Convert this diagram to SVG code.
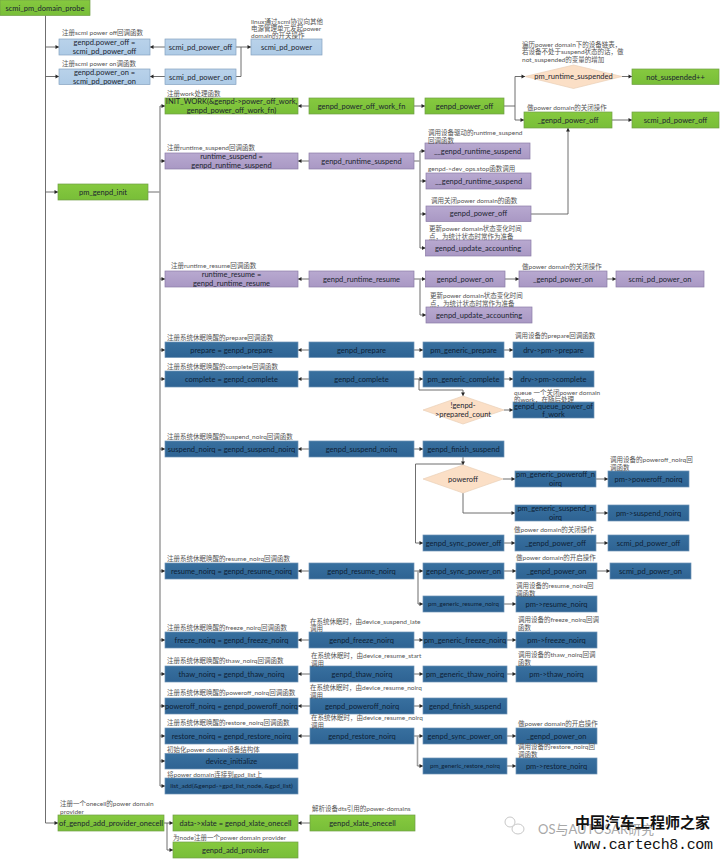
<svg xmlns="http://www.w3.org/2000/svg" width="720" height="859" viewBox="0 0 720 859">
<defs>
<marker id="a" markerUnits="userSpaceOnUse" markerWidth="5" markerHeight="5" refX="4" refY="2.5" orient="auto"><path d="M0.5 0.5L4 2.5L0.5 4.5Z" fill="#262626"/></marker>
<linearGradient id="gG" x1="0" y1="0" x2="0" y2="1"><stop offset="0" stop-color="#86c93f"/><stop offset="1" stop-color="#78be38"/></linearGradient>
<linearGradient id="gL" x1="0" y1="0" x2="0" y2="1"><stop offset="0" stop-color="#b9d2ea"/><stop offset="1" stop-color="#aecbe6"/></linearGradient>
<linearGradient id="gP" x1="0" y1="0" x2="0" y2="1"><stop offset="0" stop-color="#b8a9d0"/><stop offset="1" stop-color="#a998c4"/></linearGradient>
<linearGradient id="gB" x1="0" y1="0" x2="0" y2="1"><stop offset="0" stop-color="#38709f"/><stop offset="1" stop-color="#2e6393"/></linearGradient>
</defs>
<style>
text{font-family:"Lato","Noto Sans CJK SC",sans-serif}
.n text{font-size:7.5px;text-anchor:middle;fill:#1c2530}
.s text{font-size:6.2px}
.xs text{font-size:6.5px}
.g rect{fill:url(#gG);stroke:#6f9f45;stroke-width:.7}
.l rect{fill:url(#gL);stroke:#84a2bf;stroke-width:.7}
.p rect{fill:url(#gP);stroke:#8b7ba6;stroke-width:.7}
.b rect{fill:url(#gB);stroke:#6d92b5;stroke-width:.7}
.b text{fill:#0e1f35}
.d polygon{fill:#fbdfc6;stroke:#ead0b8;stroke-width:.7}
.c path{fill:none;stroke:#5f5f5f;stroke-width:.9}
.c .m{marker-end:url(#a)}
.c .t{stroke:#a3a3a3;stroke-width:1.6}
.lb text{font-size:6.5px;fill:#555}
.wm text{fill:#111}
</style>
<g id="connectors" class="c">
<path class="m" d="M45.5 15.5V823H58"/>
<path class="m" d="M45.5 47H59"/>
<path class="m" d="M45.5 76.5H59"/>
<path class="m" d="M45.5 192H58"/>
<path class="m" d="M165 47H150"/>
<path class="m" d="M165 76.5H150"/>
<path class="m" d="M236 47H251"/>
<path d="M236 76.5H241V47"/>
<path d="M148 192H160"/>
<path class="t" d="M160 106V786"/>
<path class="m" d="M160 106H165"/><path class="m" d="M160 161H165"/><path class="m" d="M160 279H165"/><path class="m" d="M160 350H165"/><path class="m" d="M160 379H165"/><path class="m" d="M160 449H165"/><path class="m" d="M160 571H165"/><path class="m" d="M160 640H165"/><path class="m" d="M160 674H165"/><path class="m" d="M160 706H165"/><path class="m" d="M160 736H165"/><path class="m" d="M160 761H165"/><path class="m" d="M160 786H165"/>
<path class="m" d="M309 106H298"/>
<path class="m" d="M414 106H425"/>
<path class="m" d="M504 106H515V76.5H525"/>
<path class="m" d="M515 106V120H524"/>
<path class="m" d="M622 76.5H632"/>
<path class="m" d="M612 120H632"/>
<path class="m" d="M309 161H298"/>
<path d="M414 161H420"/>
<path class="t" d="M420 151V248"/>
<path class="m" d="M420 151H425"/><path class="m" d="M420 181H426"/><path class="m" d="M420 214H426"/><path class="m" d="M420 248H425.500"/>
<path class="m" d="M531 214H568V128"/>
<path class="m" d="M309 279H298"/>
<path class="m" d="M414 279H425.500"/>
<path class="t" d="M420 279V315"/>
<path class="m" d="M420 315H426"/>
<path class="m" d="M505 279H519"/>
<path class="m" d="M607 279H616"/>
<path class="m" d="M309 350H298"/><path class="m" d="M414 350H423"/><path class="m" d="M504 350H513"/>
<path class="m" d="M309 379H298"/><path class="m" d="M414 379H423"/><path class="m" d="M504 379H513"/>
<path class="m" d="M419 379V390H463V396"/>
<path class="m" d="M504 410H513"/>
<path class="m" d="M309 449H298"/><path class="m" d="M414 449H423"/>
<path class="m" d="M463 457V465"/>
<path class="m" d="M463 464H415.500V543H423"/>
<path class="m" d="M503 479H515"/><path class="m" d="M596 479H608"/>
<path class="m" d="M463 493V513H515"/><path class="m" d="M596 513H608"/>
<path class="m" d="M504 543H515"/><path class="m" d="M596 543H608"/>
<path class="m" d="M309 571H298"/><path class="m" d="M414 571H423"/>
<path class="t" d="M418 571V604"/>
<path class="m" d="M418 604H423"/>
<path class="m" d="M504 571H516"/><path class="m" d="M597 571H610"/><path class="m" d="M504 604H516"/>
<path class="m" d="M309 640H298"/><path class="m" d="M414 640H423"/><path class="m" d="M507 640H516"/>
<path class="m" d="M310 674H298"/><path class="m" d="M414 674H423"/><path class="m" d="M507 674H516"/>
<path class="m" d="M310 706H298"/><path class="m" d="M414 706H423"/>
<path class="m" d="M310 736H298"/><path class="m" d="M414 736H423"/><path class="m" d="M507 736H516"/>
<path class="t" d="M417.500 736V766"/>
<path class="m" d="M417.500 766H423"/><path class="m" d="M507 766H516"/>
<path class="m" d="M164 823H173"/>
<path class="m" d="M167 823V850H173"/>
<path class="m" d="M310 823H298"/>
</g>
<g class="n">
<g id="probe" class="g"><rect x="0" y="0" width="90" height="15.500"/><text x="45" y="10.500">scmi_pm_domain_probe</text></g>
<g id="power_off_cb" class="l"><rect x="59" y="39" width="91" height="16"/><text x="104.500" y="45">genpd.power_off =</text><text x="104.500" y="54">scmi_pd_power_off</text></g>
<g id="scmi_off" class="l"><rect x="165" y="39" width="71" height="16"/><text x="200.500" y="49.500">scmi_pd_power_off</text></g>
<g id="scmi_power" class="l"><rect x="251" y="39" width="71" height="16"/><text x="286.500" y="49.500">scmi_pd_power</text></g>
<g id="power_on_cb" class="l"><rect x="59" y="69" width="91" height="15.500"/><text x="104.500" y="74.500">genpd.power_on =</text><text x="104.500" y="84">scmi_pd_power_on</text></g>
<g id="scmi_on" class="l"><rect x="165" y="69" width="71" height="15.500"/><text x="200.500" y="79.500">scmi_pd_power_on</text></g>
<g id="pm_genpd_init" class="g"><rect x="58" y="184" width="90" height="16"/><text x="103" y="194.500">pm_genpd_init</text></g>
<g id="init_work" class="g"><rect x="165" y="98" width="133" height="16"/><text x="231.500" y="104">INIT_WORK(&amp;genpd-&gt;power_off_work,</text><text x="231.500" y="113">genpd_power_off_work_fn)</text></g>
<g id="work_fn" class="g"><rect x="309" y="98" width="105" height="16"/><text x="361.500" y="108.500">genpd_power_off_work_fn</text></g>
<g id="gpo1" class="g"><rect x="425" y="98" width="79" height="16"/><text x="464.500" y="108.500">genpd_power_off</text></g>
<g id="pm_rs" class="d"><polygon points="525,76.500 573.500,65 622,76.500 573.500,88.500"/><text x="573.500" y="79">pm_runtime_suspended</text></g>
<g id="not_susp" class="g"><rect x="632" y="69" width="87" height="15.500"/><text x="675.500" y="79.500">not_suspended++</text></g>
<g id="_gpo1" class="g"><rect x="524" y="112" width="88" height="16"/><text x="568" y="122.500">_genpd_power_off</text></g>
<g id="scmi_off2" class="g"><rect x="632" y="112" width="87" height="16"/><text x="675.500" y="122.500">scmi_pd_power_off</text></g>
<g id="rs_cb" class="p"><rect x="165" y="153" width="133" height="16"/><text x="231.500" y="159">runtime_suspend =</text><text x="231.500" y="168">genpd_runtime_suspend</text></g>
<g id="grs" class="p"><rect x="309" y="153" width="105" height="16"/><text x="361.500" y="163.500">genpd_runtime_suspend</text></g>
<g id="__grs1" class="p"><rect x="425" y="143" width="105" height="16"/><text x="477.500" y="153.500">__genpd_runtime_suspend</text></g>
<g id="__grs2" class="p"><rect x="426" y="173" width="105" height="16"/><text x="478.500" y="183.500">__genpd_runtime_suspend</text></g>
<g id="gpo2" class="p"><rect x="426" y="206" width="105" height="15.500"/><text x="478.500" y="216">genpd_power_off</text></g>
<g id="gua1" class="p"><rect x="425.500" y="240" width="105.500" height="16"/><text x="478" y="250.500">genpd_update_accounting</text></g>
<g id="rr_cb" class="p"><rect x="165" y="271" width="133" height="16"/><text x="231.500" y="277">runtime_resume =</text><text x="231.500" y="286">genpd_runtime_resume</text></g>
<g id="grr" class="p"><rect x="309" y="271" width="105" height="16"/><text x="361.500" y="281.500">genpd_runtime_resume</text></g>
<g id="gpn1" class="p"><rect x="425.500" y="271" width="79.500" height="16"/><text x="465" y="281.500">genpd_power_on</text></g>
<g id="_gpn1" class="p"><rect x="519" y="271" width="88" height="16"/><text x="563" y="281.500">_genpd_power_on</text></g>
<g id="scmi_on2" class="p"><rect x="616" y="271" width="88" height="16"/><text x="660" y="281.500">scmi_pd_power_on</text></g>
<g id="gua2" class="p"><rect x="426" y="307" width="106" height="16"/><text x="479" y="317.500">genpd_update_accounting</text></g>
<g id="prepare_cb" class="b"><rect x="165" y="342" width="133" height="15.500"/><text x="231.500" y="352.500">prepare = genpd_prepare</text></g>
<g id="gprep" class="b"><rect x="309" y="342" width="105" height="15.500"/><text x="361.500" y="352.500">genpd_prepare</text></g>
<g id="pgprep" class="b"><rect x="423" y="342" width="81" height="15.500"/><text x="463.500" y="352.500">pm_generic_prepare</text></g>
<g id="drvprep" class="b"><rect x="513" y="342" width="81" height="15.500"/><text x="553.500" y="352.500">drv-&gt;pm-&gt;prepare</text></g>
<g id="complete_cb" class="b"><rect x="165" y="371" width="133" height="16"/><text x="231.500" y="381.500">complete = genpd_complete</text></g>
<g id="gcomp" class="b"><rect x="309" y="371" width="105" height="16"/><text x="361.500" y="381.500">genpd_complete</text></g>
<g id="pgcomp" class="b"><rect x="423" y="371" width="81" height="16"/><text x="463.500" y="381.500">pm_generic_complete</text></g>
<g id="drvcomp" class="b"><rect x="513" y="371" width="81" height="16"/><text x="553.500" y="381.500">drv-&gt;pm-&gt;complete</text></g>
<g id="prep_count" class="d"><polygon points="423,410 463,396 504,410 463,424"/><text x="463" y="407.500">!genpd-</text><text x="463" y="416.500">&gt;prepared_count</text></g>
<g id="queue_work" class="b"><rect x="513" y="402" width="81" height="16"/><text x="553.500" y="408.500">genpd_queue_power_of</text><text x="553.500" y="417">f_work</text></g>
<g id="sn_cb" class="b"><rect x="165" y="441" width="133" height="16"/><text x="231.500" y="451.500">suspend_noirq = genpd_suspend_noirq</text></g>
<g id="gsn" class="b"><rect x="309" y="441" width="105" height="16"/><text x="361.500" y="451.500">genpd_suspend_noirq</text></g>
<g id="gfs1" class="b"><rect x="423" y="441" width="81" height="16"/><text x="463.500" y="451.500">genpd_finish_suspend</text></g>
<g id="poweroff" class="d"><polygon points="423,479 463,465 503,479 463,493"/><text x="463" y="481.500">poweroff</text></g>
<g id="pgpo" class="b"><rect x="515" y="471" width="81" height="16"/><text x="555.500" y="477">pm_generic_poweroff_n</text><text x="555.500" y="486">oirq</text></g>
<g id="pmpo" class="b"><rect x="608" y="471" width="81" height="16"/><text x="648.500" y="481.500">pm-&gt;poweroff_noirq</text></g>
<g id="pgsn" class="b"><rect x="515" y="505" width="81" height="16"/><text x="555.500" y="511">pm_generic_suspend_n</text><text x="555.500" y="520">oirq</text></g>
<g id="pmsn" class="b"><rect x="608" y="505" width="81" height="16"/><text x="648.500" y="515.500">pm-&gt;suspend_noirq</text></g>
<g id="gspo" class="b"><rect x="423" y="535" width="81" height="16"/><text x="463.500" y="545.500">genpd_sync_power_off</text></g>
<g id="_gpo2" class="b"><rect x="515" y="535" width="81" height="16"/><text x="555.500" y="545.500">_genpd_power_off</text></g>
<g id="scmi_off3" class="b"><rect x="608" y="535" width="81" height="16"/><text x="648.500" y="545.500">scmi_pd_power_off</text></g>
<g id="rn_cb" class="b"><rect x="165" y="563" width="133" height="16"/><text x="231.500" y="573.500">resume_noirq = genpd_resume_noirq</text></g>
<g id="grn" class="b"><rect x="309" y="563" width="105" height="16"/><text x="361.500" y="573.500">genpd_resume_noirq</text></g>
<g id="gspn1" class="b"><rect x="423" y="563" width="81" height="16"/><text x="463.500" y="573.500">genpd_sync_power_on</text></g>
<g id="_gpn2" class="b"><rect x="516" y="563" width="81" height="16"/><text x="556.500" y="573.500">_genpd_power_on</text></g>
<g id="scmi_on3" class="b"><rect x="610" y="563" width="81" height="16"/><text x="650.500" y="573.500">scmi_pd_power_on</text></g>
<g id="pgrn" class="b s"><rect x="423" y="596" width="81" height="16"/><text x="463.500" y="606">pm_generic_resume_noirq</text></g>
<g id="pmrn" class="b"><rect x="516" y="596" width="81" height="16"/><text x="556.500" y="606.500">pm-&gt;resume_noirq</text></g>
<g id="fn_cb" class="b"><rect x="165" y="632" width="133" height="16"/><text x="231.500" y="642.500">freeze_noirq = genpd_freeze_noirq</text></g>
<g id="gfn" class="b"><rect x="309" y="632" width="105" height="16"/><text x="361.500" y="642.500">genpd_freeze_noirq</text></g>
<g id="pgfn" class="b"><rect x="423" y="632" width="84" height="16"/><text x="465" y="642.500">pm_generic_freeze_noirq</text></g>
<g id="pmfn" class="b"><rect x="516" y="632" width="81" height="16"/><text x="556.500" y="642.500">pm-&gt;freeze_noirq</text></g>
<g id="tn_cb" class="b"><rect x="165" y="666" width="133" height="16"/><text x="231.500" y="676.500">thaw_noirq = genpd_thaw_noirq</text></g>
<g id="gtn" class="b"><rect x="310" y="666" width="104" height="16"/><text x="362" y="676.500">genpd_thaw_noirq</text></g>
<g id="pgtn" class="b"><rect x="423" y="666" width="84" height="16"/><text x="465" y="676.500">pm_generic_thaw_noirq</text></g>
<g id="pmtn" class="b"><rect x="516" y="666" width="81" height="16"/><text x="556.500" y="676.500">pm-&gt;thaw_noirq</text></g>
<g id="pn_cb" class="b"><rect x="165" y="698" width="133" height="16"/><text x="231.500" y="708.500">poweroff_noirq = genpd_poweroff_noirq</text></g>
<g id="gpn" class="b"><rect x="310" y="698" width="104" height="16"/><text x="362" y="708.500">genpd_poweroff_noirq</text></g>
<g id="gfs2" class="b"><rect x="423" y="698" width="84" height="16"/><text x="465" y="708.500">genpd_finish_suspend</text></g>
<g id="restn_cb" class="b"><rect x="165" y="728" width="133" height="16"/><text x="231.500" y="738.500">restore_noirq = genpd_restore_noirq</text></g>
<g id="grestn" class="b"><rect x="310" y="728" width="104" height="16"/><text x="362" y="738.500">genpd_restore_noirq</text></g>
<g id="gspn2" class="b"><rect x="423" y="728" width="84" height="16"/><text x="465" y="738.500">genpd_sync_power_on</text></g>
<g id="_gpn3" class="b"><rect x="516" y="728" width="81" height="16"/><text x="556.500" y="738.500">_genpd_power_on</text></g>
<g id="pgrestn" class="b s"><rect x="423" y="758" width="84" height="16"/><text x="465" y="768">pm_generic_restore_noirq</text></g>
<g id="pmrestn" class="b"><rect x="516" y="758" width="81" height="16"/><text x="556.500" y="768.500">pm-&gt;restore_noirq</text></g>
<g id="dev_init" class="b"><rect x="165" y="753.500" width="133" height="15.500"/><text x="231.500" y="764">device_initialize</text></g>
<g id="list_add" class="b xs"><rect x="165" y="778" width="133" height="16"/><text x="231.500" y="788">list_add(&amp;genpd-&gt;gpd_list_node, &amp;gpd_list)</text></g>
<g id="of_add" class="g"><rect x="58" y="815" width="106" height="16"/><text x="111" y="825.500">of_genpd_add_provider_onecell</text></g>
<g id="xlate_cb" class="g"><rect x="173" y="815" width="125" height="16"/><text x="235.500" y="825.500">data-&gt;xlate = genpd_xlate_onecell</text></g>
<g id="xlate" class="g"><rect x="310" y="815" width="105" height="16"/><text x="362.500" y="825.500">genpd_xlate_onecell</text></g>
<g id="add_prov" class="g"><rect x="173" y="842" width="125" height="16"/><text x="235.500" y="852.500">genpd_add_provider</text></g>
</g>
<g id="labels" class="lb">
<text x="62" y="34.500">注册scmi power off回调函数</text>
<text x="62" y="66">注册scmi power on调函数</text>
<text x="251" y="23.500">linux通过scmi协议向其他</text>
<text x="251" y="31">电源管理单元发起power</text>
<text x="251" y="38">domain的开关操作</text>
<text x="167" y="96">注册work处理函数</text>
<text x="522" y="46.500">遍历power domain下的设备链表，</text>
<text x="522" y="54">若设备不处于suspend状态的话，做</text>
<text x="522" y="61.500">not_suspended的变量的增加</text>
<text x="527" y="109.500">做power domain的关闭操作</text>
<text x="167" y="150">注册runtime_suspend回调函数</text>
<text x="428" y="135">调用设备驱动的runtime_suspend</text>
<text x="428" y="142.500">回调函数</text>
<text x="428" y="170.500">genpd-&gt;dev_ops.stop函数调用</text>
<text x="431" y="202.500">调用关闭power domain的函数</text>
<text x="429" y="231">更新power domain状态变化时间</text>
<text x="429" y="238.500">点，为统计状态时常作为准备</text>
<text x="171" y="267.500">注册runtime_resume回调函数</text>
<text x="522" y="268.500">做power domain的关闭操作</text>
<text x="430" y="298">更新power domain状态变化时间</text>
<text x="430" y="305.500">点，为统计状态时常作为准备</text>
<text x="167" y="339.500">注册系统休眠唤醒的prepare回调函数</text>
<text x="167" y="368.500">注册系统休眠唤醒的complete回调函数</text>
<text x="515" y="337.500">调用设备的prepare回调函数</text>
<text x="514" y="394.500">queue 一个关闭power domain</text>
<text x="514" y="401.500">的work，在随后处理</text>
<text x="167" y="438.500">注册系统休眠唤醒的suspend_noirq回调函数</text>
<text x="610" y="462">调用设备的poweroff_noirq回</text>
<text x="610" y="469.500">调函数</text>
<text x="514" y="531.500">做power domain的关闭操作</text>
<text x="167" y="560.500">注册系统休眠唤醒的resume_noirq回调函数</text>
<text x="516" y="560">做power domain的开启操作</text>
<text x="516" y="588">调用设备的resume_noirq回</text>
<text x="516" y="595.500">调函数</text>
<text x="167" y="629.500">注册系统休眠唤醒的freeze_noirq回调函数</text>
<text x="310" y="623.500">在系统休眠时，由device_suspend_late</text>
<text x="310" y="631">调用</text>
<text x="518" y="622">调用设备的freeze_noirq回调</text>
<text x="518" y="629.500">函数</text>
<text x="167" y="662.500">注册系统休眠唤醒的thaw_noirq回调函数</text>
<text x="311" y="658">在系统休眠时，由device_resume_start</text>
<text x="311" y="665.500">调用</text>
<text x="518" y="657">调用设备的thaw_noirq回调</text>
<text x="518" y="664.500">函数</text>
<text x="167" y="694.500">注册系统休眠唤醒的poweroff_noirq回调函数</text>
<text x="310" y="690">在系统休眠时，由device_resume_noirq</text>
<text x="310" y="697.500">调用</text>
<text x="167" y="724.500">注册系统休眠唤醒的restore_noirq回调函数</text>
<text x="311" y="720">在系统休眠时，由device_resume_noirq</text>
<text x="311" y="727.500">调用</text>
<text x="518" y="725.500">做power domain的开启操作</text>
<text x="518" y="749">调用设备的restore_noirq回</text>
<text x="518" y="756.500">调函数</text>
<text x="167" y="752">初始化power domain设备结构体</text>
<text x="167" y="776.500">将power domain连接到gpd_list上</text>
<text x="60" y="805.500">注册一个onecell的power domain</text>
<text x="60" y="813.500">provider</text>
<text x="312" y="810.500">解析设备dts引用的power-domains</text>
<text x="173" y="839.500">为node注册一个power domain provider</text>
</g>
<g id="watermark" class="wm">
<ellipse cx="510" cy="822" rx="5" ry="5" fill="#fff" stroke="#c8c8c8" stroke-width="1"/>
<ellipse cx="518" cy="829" rx="6" ry="5" fill="#fff" stroke="#c8c8c8" stroke-width="1"/>
<text x="538" y="834" font-size="13" style="fill:#a8a8a8">OS与AUTOSAR研究</text>
<text x="575" y="828" font-size="15" font-weight="700" textLength="135">中国汽车工程师之家</text>
<text x="574" y="849" font-size="15" textLength="139" style="font-family:'Liberation Mono',monospace">www.cartech8.com</text>
</g>
</svg>
